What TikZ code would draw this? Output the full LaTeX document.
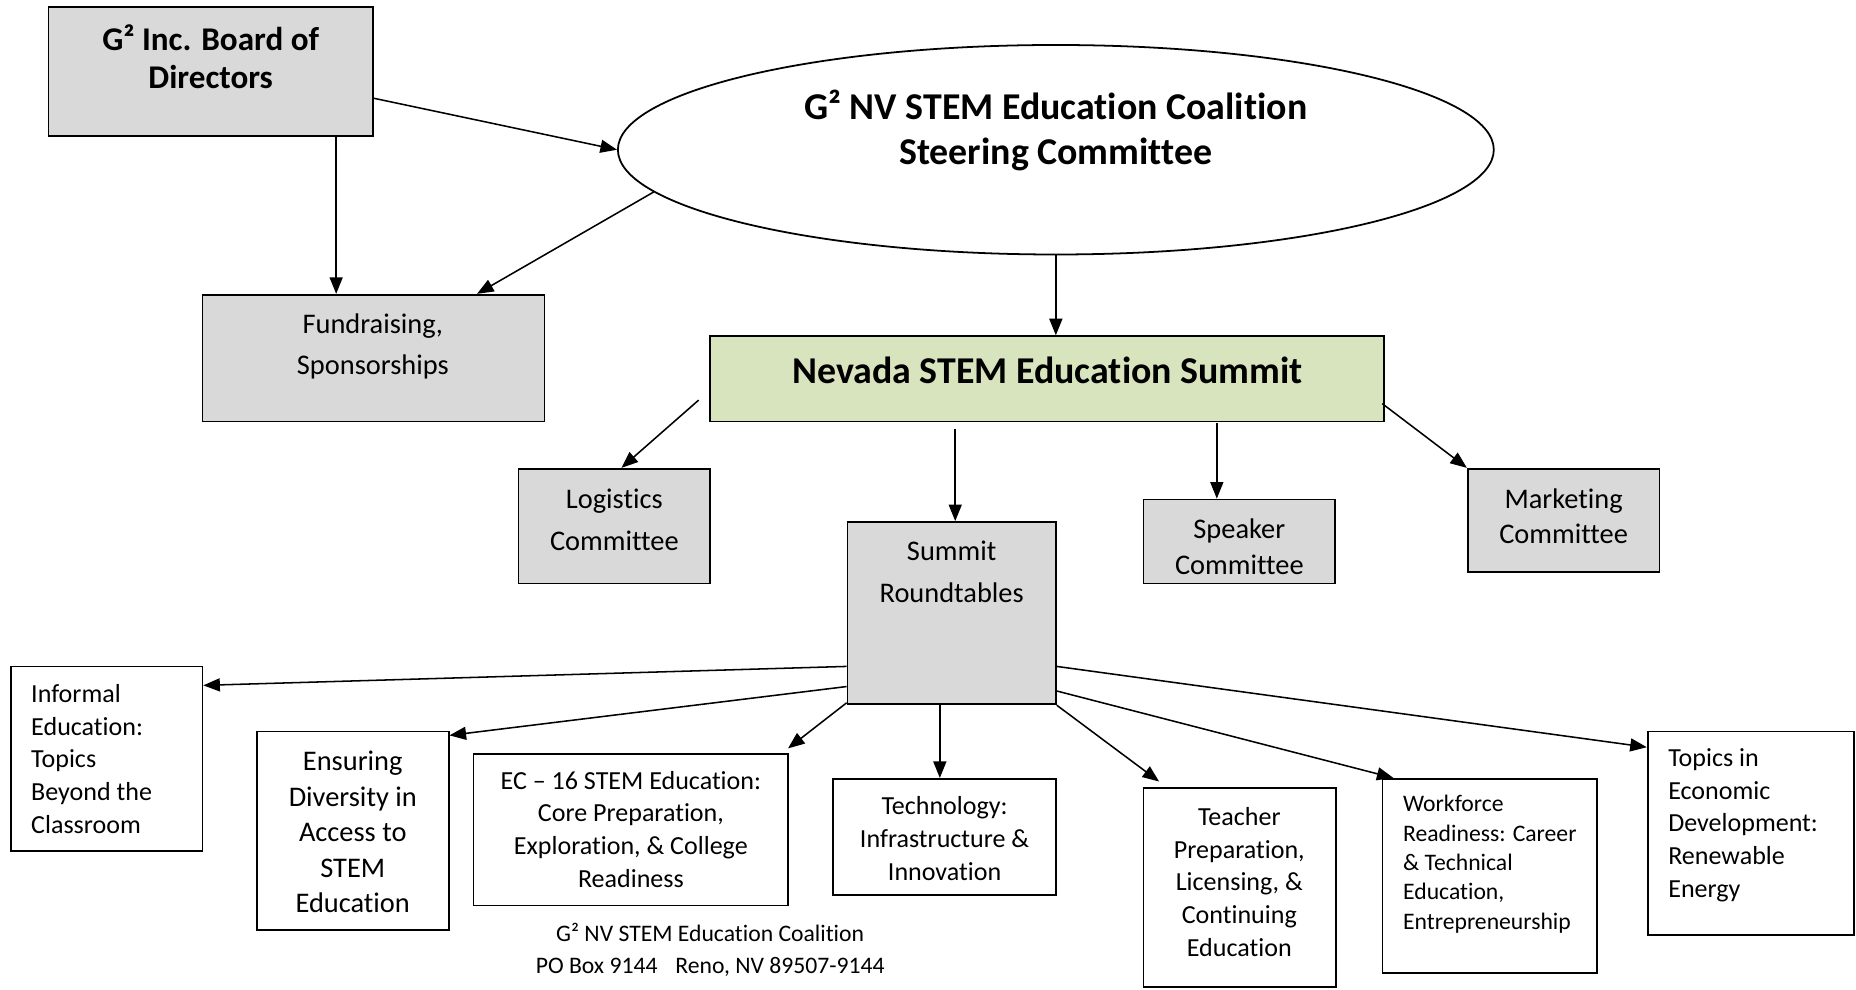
\documentclass[tikz,border=0pt]{standalone}
\usepackage{fontspec}
\setmainfont{Carlito}[Ligatures=NoCommon]
\usetikzlibrary{calc,shapes.geometric,arrows.meta}
\definecolor{boxgrey}{RGB}{217,217,217}
\definecolor{summitgreen}{RGB}{215,228,189}

\begin{document}
\begin{tikzpicture}[x=0.5pt, y=-0.5pt,
    greybox/.style={draw, line width=0.75pt, fill=boxgrey, inner sep=0pt},
    whitebox/.style={draw, line width=0.75pt, fill=white, inner sep=0pt},
    txt/.style={inner sep=0pt, align=center, font=\fontsize{11}{13.8}\selectfont},
    bigtxt/.style={inner sep=0pt, align=center, font=\fontsize{12}{17.5}\selectfont},
    boldtxt/.style={inner sep=0pt, align=center, font=\bfseries\fontsize{16}{19}\selectfont},
    arr/.style={-{Triangle[length=7pt,width=5.5pt]}, line width=0.65pt}]
    \useasboundingbox (0,0) rectangle (1568,836);

    % top level
    \node (board) at (178,60.5) [greybox, minimum width=137pt, minimum height=54.5pt] {};
    \node (boardtxt) at (178,48) [boldtxt, font=\bfseries\fontsize{14}{16}\selectfont] {G² Inc. Board of\\Directors};
    \node (steer) at (892,126.5) [ellipse, draw, line width=0.75pt, inner sep=0pt, minimum width=370pt, minimum height=88.5pt] {};
    \node (steertxt) at (892,110) [boldtxt] {G² NV STEM Education Coalition\\Steering Committee};
    \node (fund) at (315.5,302.5) [greybox, minimum width=144.5pt, minimum height=53.5pt] {};
    \node (fundtxt) at (315,292.5) [bigtxt] {Fundraising,\\Sponsorships};

    % summit and committees
    \node (summit) at (884.5,320) [greybox, fill=summitgreen, minimum width=284.5pt, minimum height=36pt] {};
    \node (summittxt) at (885,313) [boldtxt] {Nevada STEM Education Summit};
    \node (logist) at (519,444.5) [greybox, minimum width=81pt, minimum height=48.5pt] {};
    \node (logisttxt) at (519,439) [bigtxt] {Logistics\\Committee};
    \node (round) at (804,518) [greybox, minimum width=88pt, minimum height=77pt] {};
    \node (roundtxt) at (804,483) [bigtxt] {Summit\\Roundtables};
    \node (speaker) at (1047,457.5) [greybox, minimum width=81pt, minimum height=35.5pt] {};
    \node (speakertxt) at (1047,462) [bigtxt, font=\fontsize{12}{15}\selectfont] {Speaker\\Committee};
    \node (market) at (1321,439.5) [greybox, minimum width=81pt, minimum height=43.5pt] {};
    \node (markettxt) at (1321,436) [bigtxt, font=\fontsize{12}{15}\selectfont] {Marketing\\Committee};

    % roundtable topics
    \node (informal) at (90,641) [whitebox, minimum width=81pt, minimum height=78pt] {};
    \node (informaltxt) at (26,641) [txt, align=left, anchor=west] {Informal\\Education:\\Topics\\Beyond the\\Classroom};
    \node (divers) at (298,702) [whitebox, minimum width=81pt, minimum height=84pt] {};
    \node (diverstxt) at (298,703) [bigtxt, font=\fontsize{12}{15}\selectfont] {Ensuring\\Diversity in\\Access to\\STEM\\Education};
    \node (ec) at (533,701) [whitebox, minimum width=133pt, minimum height=64pt] {};
    \node (ectxt) at (533,700.5) [txt] {EC – 16 STEM Education:\\Core Preparation,\\Exploration, \& College\\Readiness};
    \node (tech) at (798,707) [whitebox, minimum width=94pt, minimum height=49pt] {};
    \node (techtxt) at (798,708.5) [txt] {Technology:\\Infrastructure \&\\Innovation};
    \node (teacher) at (1047.5,750) [whitebox, minimum width=81.5pt, minimum height=84pt] {};
    \node (teachertxt) at (1047,745) [txt] {Teacher\\Preparation,\\Licensing, \&\\Continuing\\Education};
    \node (work) at (1258.5,740) [whitebox, minimum width=90.5pt, minimum height=82pt] {};
    \node (worktxt) at (1185,730) [txt, align=left, anchor=west, font=\fontsize{10}{12.4}\selectfont] {Workforce\\Readiness: Career\\\& Technical\\Education,\\Entrepreneurship};
    \node (econ) at (1479,704) [whitebox, minimum width=87pt, minimum height=86pt] {};
    \node (econtxt) at (1409,697) [txt, align=left, anchor=west] {Topics in\\Economic\\Development:\\Renewable\\Energy};

    \node (footer) at (600,802.5) [txt, font=\fontsize{10}{13.5}\selectfont] {G² NV STEM Education Coalition\\PO Box 9144\hspace{7.5pt}Reno, NV 89507-9144};

    % connectors
    \draw[arr] ($(board.east)+(0,22.5)$) -- (steer.west);
    \draw[arr] ($(board.south)+(106,0)$) coordinate (b1) -- (b1 |- fund.north);
    \draw[arr] (steer.186) -- ($(fund.north)+(87.5,0)$);
    \draw[arr] (steer.south) -- (steer.south |- summit.north);

    \draw[arr] ($(summit.west)+(-9,18)$) -- ($(logist.north)+(6,0)$);
    \draw[arr] ($(summit.south)+(-77.5,6)$) coordinate (s1) -- (s1 |- round.north);
    \draw[arr] ($(summit.south)+(143.5,1)$) coordinate (s2) -- (s2 |- speaker.north);
    \draw[arr] ($(summit.east)+(-2,21)$) -- (market.north west);

    \draw[arr] ($(round.west)+(0,45)$) -- ($(informal.east)+(0,-62)$);
    \draw[arr] ($(round.west)+(0,62)$) -- ($(divers.north east)+(0,4)$);
    \draw[arr] ($(round.south west)+(0,-2)$) -- ($(ec.north east)+(-1,-4)$);
    \draw[arr] ($(round.south)+(-10,0)$) coordinate (r1) -- (r1 |- tech.north);
    \draw[arr] (round.south east) -- ($(teacher.north west)+(14,-5)$);
    \draw[arr] ($(round.south east)+(0,-12)$) -- ($(work.north west)+(10,0)$);
    \draw[arr] ($(round.east)+(0,45)$) -- ($(econ.north west)+(0,14)$);
\end{tikzpicture}
\end{document}
